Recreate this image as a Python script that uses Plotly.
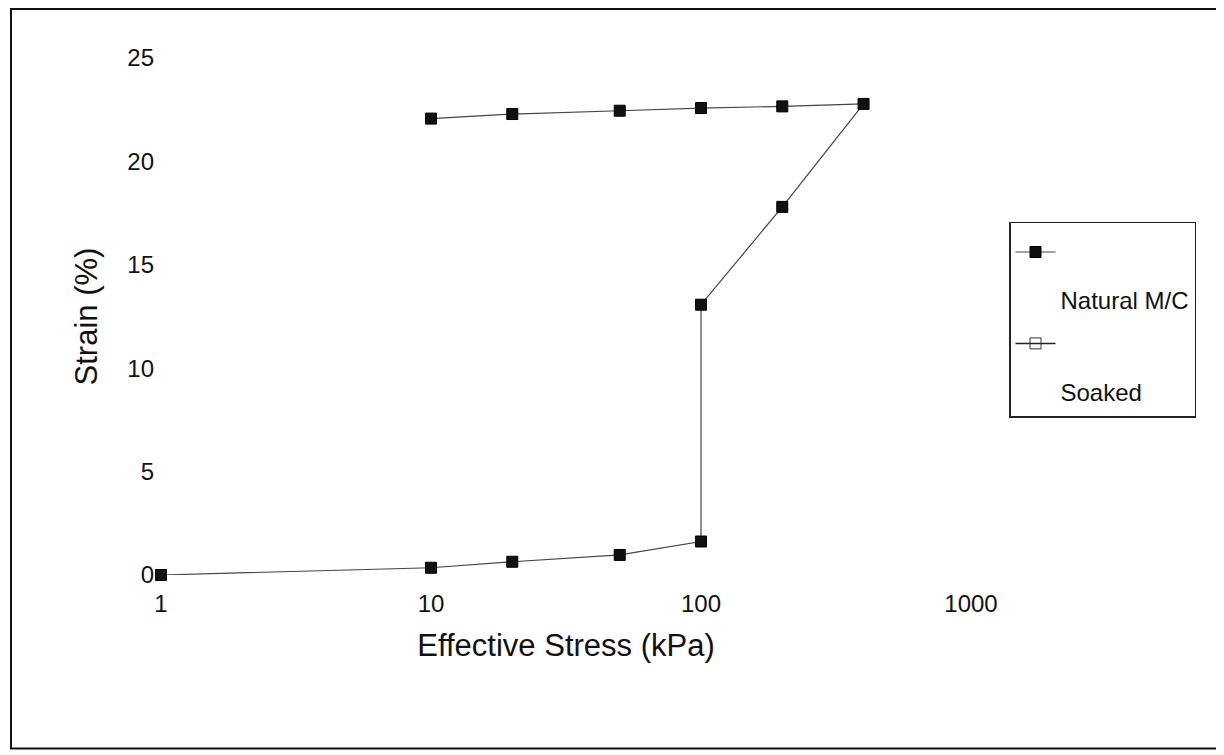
import plotly.graph_objects as go

# Data
stress_kpa = [1, 10, 20, 50, 100, 100, 200, 400, 200, 100, 50, 20, 10]
strain_pct = [0.0, 0.35, 0.64, 0.97, 1.62, 13.07, 17.8, 22.78, 22.66, 22.58, 22.45, 22.29, 22.07]
soaked_stress = []
soaked_strain = []

x_ticks = [1, 10, 100, 1000]
x_tick_text = ["1", "10", "100", "1000"]
y_ticks = [0, 5, 10, 15, 20, 25]

FONT = "Arial, Liberation Sans, sans-serif"
W, H = 1224, 755
# page body has an 8px margin, so figure coords = screen coords - 8
L, T = 153, 50
PLOT_RIGHT, PLOT_BOTTOM = 963, 567.3
R, B = W - PLOT_RIGHT, H - PLOT_BOTTOM
pw, ph = PLOT_RIGHT - L, PLOT_BOTTOM - T

def px_to_paper_x(px):
    return (px - L) / pw

def px_to_paper_y(py):
    return (PLOT_BOTTOM - py) / ph

def legend_label(txt):
    return " <br><span style='font-size:24px'>" + txt + "</span>"

fig = go.Figure()
fig.add_trace(go.Scatter(
    x=stress_kpa, y=strain_pct, mode="lines+markers",
    name=legend_label("Natural M/C"), legendgroup="a",
    line=dict(color="#444444", width=1.2),
    marker=dict(symbol="square", size=11, color="#111111",
                line=dict(color="#000000", width=1)),
    cliponaxis=False,
))
fig.add_trace(go.Scatter(
    x=soaked_stress if soaked_stress else [None],
    y=soaked_strain if soaked_strain else [None],
    mode="lines+markers", name=legend_label("Soaked"), legendgroup="b",
    line=dict(color="#222222", width=1.5),
    marker=dict(symbol="square-open", size=11, color="#333333"),
))

fig.update_layout(
    width=W, height=H,
    margin=dict(l=L, r=R, t=T, b=B, autoexpand=False),
    paper_bgcolor="white", plot_bgcolor="white",
    font=dict(family=FONT, size=24, color="#111111"),
    showlegend=True,
    legend=dict(
        x=px_to_paper_x(1001), y=px_to_paper_y(214),
        xanchor="left", yanchor="top",
        bordercolor="#222222", borderwidth=1.5,
        bgcolor="white",
        font=dict(family=FONT, size=34, color="#111111"),
        valign="top", itemwidth=40, tracegroupgap=0,
    ),
    xaxis=dict(
        type="log", range=[0, 3],
        tickvals=x_ticks, ticktext=x_tick_text,
        showgrid=False, zeroline=False, showline=False, ticks="",
        ticklabelstandoff=12,
        tickfont=dict(family=FONT, size=24, color="#111111"),
        title=dict(text="Effective Stress (kPa)", standoff=18,
                   font=dict(family=FONT, size=31, color="#111111")),
    ),
    yaxis=dict(
        range=[0, 25], tickvals=y_ticks,
        showgrid=False, zeroline=False, showline=False, ticks="",
        ticklabelstandoff=6,
        tickfont=dict(family=FONT, size=24, color="#111111"),
        title=dict(text="Strain (%)", standoff=20,
                   font=dict(family=FONT, size=31, color="#111111")),
    ),
    shapes=[dict(
        type="rect", xref="paper", yref="paper",
        x0=px_to_paper_x(3), x1=px_to_paper_x(1212),
        y0=px_to_paper_y(741), y1=px_to_paper_y(1),
        line=dict(color="#111111", width=2), fillcolor="rgba(0,0,0,0)",
        layer="below",
    )],
)

fig.write_html("out.html")
